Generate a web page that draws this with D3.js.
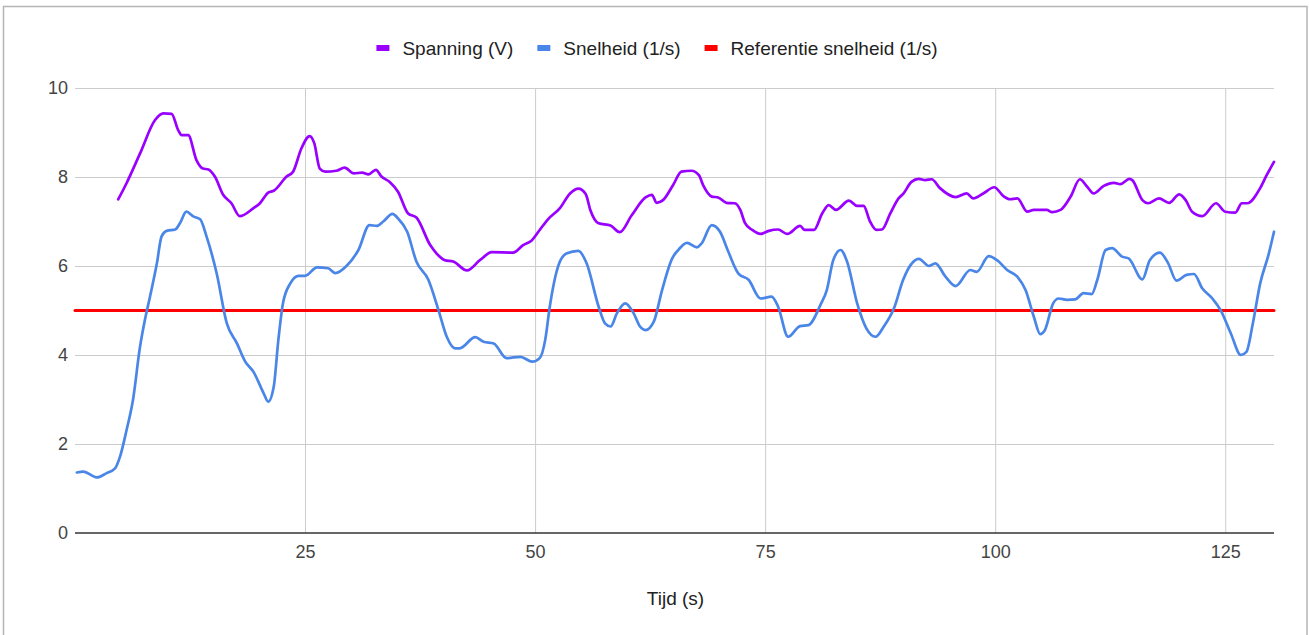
<!DOCTYPE html>
<html>
<head>
<meta charset="utf-8">
<script src="https://cdn.jsdelivr.net/npm/d3@7/dist/d3.min.js"></script>
<style>
  html, body { margin: 0; padding: 0; background: #fff; }
  svg { display: block; font-family: Arial, "Liberation Sans", sans-serif; }
</style>
</head>
<body>
<svg id="chart" width="1309" height="635"></svg>
<script>
// ---- Data ----
const spanningTime = [4.7,5.6,7.07,8.7,9.6,10.5,11.2,11.6,12.3,13.2,13.9,14.5,15.2,16.1,17.0,17.9,19.4,20.1,21.0,21.6,23.0,23.7,24.6,25.5,26.0,26.6,27.2,28.4,29.3,30.3,31.2,31.9,32.7,33.3,34.2,35.1,36.2,37.1,38.6,39.3,40.2,41.1,42.6,44.0,45.3,47.6,48.7,49.6,50.5,51.4,52.7,53.8,54.7,55.5,56.0,56.9,58.2,59.2,60.5,62.0,62.7,63.2,63.9,65.0,65.9,67.0,67.8,68.3,69.2,69.9,70.8,71.7,72.3,72.8,73.6,74.5,75.4,76.4,77.4,78.8,79.3,80.3,81.2,81.9,82.7,84.1,85.0,85.7,86.4,87.1,87.7,88.6,89.5,90.0,90.9,91.7,92.4,93.1,94.0,95.7,96.9,97.6,98.7,99.9,100.9,101.6,102.4,103.5,104.2,105.6,106.2,107.1,108.2,109.2,110.0,110.7,111.8,112.9,113.6,114.6,114.9,116.0,116.6,117.8,118.9,120.0,120.7,121.4,122.5,124.0,125.0,126.1,126.8,127.4,128.8,129.5,130.3];
const spanningValues = [7.50,7.86,8.53,9.28,9.43,9.42,9.06,8.94,8.94,8.38,8.19,8.17,8.01,7.60,7.41,7.12,7.30,7.41,7.65,7.69,8.01,8.12,8.64,8.92,8.76,8.19,8.12,8.14,8.21,8.08,8.10,8.06,8.16,8.01,7.89,7.67,7.18,7.09,6.47,6.28,6.13,6.10,5.90,6.13,6.31,6.30,6.47,6.57,6.81,7.05,7.30,7.63,7.74,7.62,7.26,6.96,6.91,6.76,7.14,7.54,7.60,7.42,7.48,7.82,8.12,8.14,8.04,7.80,7.56,7.54,7.42,7.41,7.26,6.97,6.81,6.72,6.79,6.82,6.72,6.90,6.81,6.81,7.18,7.37,7.26,7.47,7.35,7.35,7.00,6.81,6.82,7.18,7.52,7.62,7.89,7.96,7.93,7.95,7.75,7.55,7.63,7.52,7.63,7.77,7.57,7.50,7.52,7.22,7.26,7.26,7.21,7.26,7.56,7.95,7.78,7.63,7.80,7.87,7.84,7.96,7.93,7.48,7.41,7.52,7.42,7.61,7.48,7.22,7.12,7.41,7.22,7.20,7.41,7.41,7.75,8.04,8.34];

const snelheidTime = [0.2,0.9,2.35,3.4,4.35,4.9,5.6,6.3,7.07,7.6,8.15,8.9,9.4,9.97,10.9,11.4,12.1,12.9,13.6,14.3,15.4,16.5,17.6,18.5,19.4,20.5,21.0,21.6,22.1,22.6,23.4,24.3,25.0,26.3,27.5,28.3,29.5,30.8,32.0,32.8,33.5,34.5,35.1,36.1,37.1,38.4,39.5,40.4,41.3,41.8,43.5,44.4,45.5,46.9,48.4,49.7,50.5,51.1,51.6,52.5,53.4,54.7,55.6,56.9,57.6,58.2,58.9,59.8,60.7,61.4,62.0,62.9,63.8,64.9,65.6,66.5,67.6,68.1,69.2,70.1,71.0,72.1,73.2,74.5,75.7,76.4,77.5,78.8,79.7,81.0,81.7,82.4,83.2,83.9,85.0,86.0,87.0,87.9,89.0,90.0,90.8,91.7,92.8,93.5,94.6,95.7,97.3,98.0,99.3,100.2,101.3,102.4,103.3,104.2,104.9,105.4,106.3,106.9,107.8,108.7,109.6,110.5,111.1,112.0,112.7,113.8,114.5,116.0,116.8,117.9,118.8,119.7,120.8,121.6,122.5,123.6,124.5,125.6,126.7,127.3,128.0,128.8,129.7,130.3];
const snelheidValues = [1.36,1.38,1.25,1.34,1.45,1.72,2.31,2.99,4.19,4.79,5.31,6.06,6.66,6.79,6.82,6.96,7.22,7.11,7.05,6.66,5.83,4.71,4.26,3.85,3.62,3.14,2.95,3.29,4.34,5.16,5.61,5.78,5.78,5.97,5.95,5.84,6.00,6.36,6.92,6.90,7.00,7.17,7.07,6.77,6.10,5.69,5.01,4.41,4.15,4.15,4.40,4.30,4.26,3.93,3.96,3.85,3.93,4.34,5.09,5.99,6.28,6.34,6.06,5.09,4.71,4.64,4.94,5.16,4.94,4.64,4.56,4.75,5.46,6.17,6.37,6.52,6.42,6.51,6.92,6.77,6.32,5.83,5.69,5.27,5.31,5.09,4.41,4.65,4.67,5.12,5.46,6.13,6.36,6.10,5.16,4.60,4.41,4.64,5.05,5.69,6.02,6.16,6.00,6.06,5.76,5.55,5.91,5.87,6.22,6.13,5.91,5.76,5.46,4.86,4.47,4.56,5.16,5.27,5.24,5.25,5.39,5.37,5.69,6.36,6.40,6.21,6.17,5.70,6.13,6.30,6.06,5.67,5.80,5.82,5.50,5.27,5.01,4.49,4.00,4.07,4.71,5.61,6.25,6.77];

const referentieTime = [0, 130.3];
const referentieValues = [5, 5];

const seriesNames = ["Spanning (V)", "Snelheid (1/s)", "Referentie snelheid (1/s)"];
const seriesColors = ["#9900ff", "#4a86e8", "#ff0000"];
const xTicks = [25, 50, 75, 100, 125];
const yTicks = [0, 2, 4, 6, 8, 10];
const xTitle = "Tijd (s)";

// ---- Layout ----
const W = 1309, H = 635;
const plot = { left: 75, right: 1274, top: 88, bottom: 533 };
const svg = d3.select("#chart");

svg.append("rect").attr("x", 0).attr("y", 0).attr("width", W).attr("height", H).attr("fill", "#fff");
svg.append("rect").attr("x", 3.5).attr("y", 6.5).attr("width", 1303.5).attr("height", 640)
  .attr("fill", "none").attr("stroke", "#b5b5b5").attr("stroke-width", 1.5);

const x = d3.scaleLinear().domain([0, 130.3]).range([plot.left, plot.right]);
const y = d3.scaleLinear().domain([0, 10]).range([plot.bottom, plot.top]);

// Gridlines
const gy = d3.axisLeft(y).tickValues(yTicks.filter(d => d !== 0)).tickSize(-(plot.right - plot.left)).tickFormat("");
svg.append("g").attr("transform", `translate(${plot.left},0)`).call(gy)
  .call(g => g.select(".domain").remove())
  .call(g => g.selectAll("line").attr("stroke", "#cccccc").attr("stroke-width", 1));
const gx = d3.axisBottom(x).tickValues(xTicks).tickSize(-(plot.bottom - plot.top)).tickFormat("");
svg.append("g").attr("transform", `translate(0,${plot.bottom})`).call(gx)
  .call(g => g.select(".domain").remove())
  .call(g => g.selectAll("line").attr("stroke", "#cccccc").attr("stroke-width", 1));

// Tick labels
const yAxis = d3.axisLeft(y).tickValues(yTicks).tickSize(0).tickPadding(7).tickFormat(d3.format("d"));
svg.append("g").attr("transform", `translate(${plot.left},0)`).call(yAxis)
  .call(g => g.select(".domain").remove())
  .call(g => g.selectAll("text").attr("fill", "#444").attr("font-size", 18).attr("font-family", "Arial, 'Liberation Sans', sans-serif"));
const xAxis = d3.axisBottom(x).tickValues(xTicks).tickSize(0).tickPadding(12).tickFormat(d3.format("d"));
svg.append("g").attr("transform", `translate(0,${plot.bottom})`).call(xAxis)
  .call(g => g.select(".domain").remove())
  .call(g => g.selectAll("text").attr("fill", "#444").attr("font-size", 18).attr("font-family", "Arial, 'Liberation Sans', sans-serif"));

// Baseline
svg.append("line").attr("x1", plot.left).attr("x2", plot.right).attr("y1", y(0)).attr("y2", y(0))
  .attr("stroke", "#333").attr("stroke-width", 1.3);

// Axis title
svg.append("text").attr("x", (plot.left + plot.right) / 2 + 1).attr("y", 605).attr("text-anchor", "middle")
  .attr("font-size", 19).attr("fill", "#222").text(xTitle);

// Lines
const line = d3.line().x(d => x(d[0])).y(d => y(d[1])).curve(d3.curveMonotoneX);
const ser = [
  d3.zip(spanningTime, spanningValues),
  d3.zip(snelheidTime, snelheidValues),
  d3.zip(referentieTime, referentieValues)
];
const widths = [2.7, 2.7, 3];
[2, 1, 0].forEach(i => {
  svg.append("path").datum(ser[i]).attr("d", line).attr("fill", "none")
    .attr("stroke", seriesColors[i]).attr("stroke-width", widths[i])
    .attr("stroke-linejoin", "round").attr("stroke-linecap", "round");
});

// Legend
const lg = svg.append("g");
let cx = 0;
seriesNames.forEach((name, i) => {
  const g = lg.append("g");
  g.append("rect").attr("x", cx).attr("y", 45).attr("width", 13).attr("height", 6).attr("fill", seriesColors[i]);
  const t = g.append("text").attr("x", cx + 26).attr("y", 54.5).attr("font-size", 19).attr("fill", "#222").text(name);
  const w = t.node().getComputedTextLength();
  cx += 26 + w + 24;
});
const totalW = cx - 24;
lg.attr("transform", `translate(${657 - totalW / 2},0)`);
</script>
</body>
</html>
